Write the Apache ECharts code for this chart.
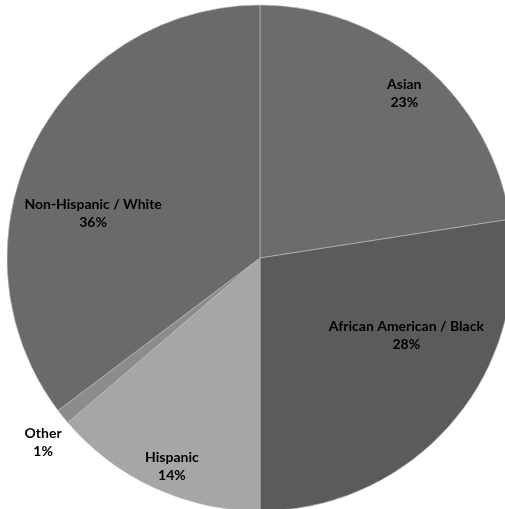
<!DOCTYPE html>
<html>
<head>
<meta charset="utf-8">
<script src="https://cdn.jsdelivr.net/npm/echarts@6/dist/echarts.min.js"></script>
<style>html,body{margin:0;padding:0;background:#fff}#c{width:505px;height:509px}</style>
</head>
<body>
<div id="c"></div>
<script>
var categories = ['Asian', 'African American / Black', 'Hispanic', 'Other', 'Non-Hispanic / White'];
var values = [23, 28, 14, 1, 36];
var sliceColors = ['#6c6c6c', '#5b5b5b', '#a6a6a6', '#8c8c8c', '#6a6a6a'];
var labelShift = [[60, -66], [48, -7], [-34, 91], [-116, 103], [-51, 13]];

var chart = echarts.init(document.getElementById('c'));
chart.setOption({
  animation: false,
  backgroundColor: '#fff',
  series: [{
    type: 'pie',
    center: [260, 258],
    radius: 253,
    startAngle: 90,
    clockwise: true,
    avoidLabelOverlap: false,
    itemStyle: { borderColor: 'rgba(190,190,190,0.6)', borderWidth: 1 },
    label: {
      show: true,
      position: 'inside',
      color: '#000',
      fontFamily: 'Lato',
      fontWeight: 'bold',
      fontSize: 14,
      lineHeight: 18,
      align: 'center',
      formatter: function (p) { return p.name + '\n' + p.value + '%'; }
    },
    labelLine: { show: false },
    labelLayout: function (p) {
      var s = labelShift[p.dataIndex];
      return { dx: s[0], dy: s[1] };
    },
    data: categories.map(function (n, i) {
      return { name: n, value: values[i], itemStyle: { color: sliceColors[i] } };
    })
  }]
});
</script>
</body>
</html>
